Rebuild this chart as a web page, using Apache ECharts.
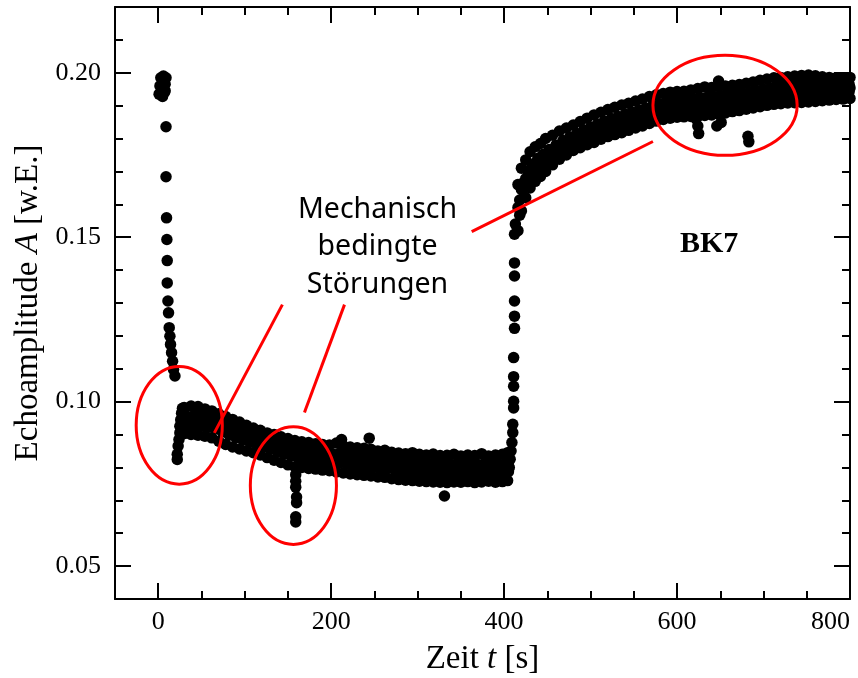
<!DOCTYPE html>
<html><head><meta charset="utf-8">
<script src="https://cdn.jsdelivr.net/npm/echarts@6/dist/echarts.min.js"></script>
<style>html,body{margin:0;padding:0;background:#fff}#c{width:858px;height:678px}</style>
</head><body><div id="c"></div><script>
// ---- data ----
const xMajor = [0, 200, 400, 600, 800];
const yMajor = [0.05, 0.10, 0.15, 0.20];

// initial plateau, drop and ellipse-1 column
const dropT = [1,2,3,4,5,6,7,8,9,5,8, 9,9,9.6,10,10.4,10.4,11.2,11.9,12.7,13.5,14.2,15.4,16.6,17.7,19.3, 22,22,23,24,25,25,26,27,28];
const dropY = [0.1935,0.1960,0.1985,0.1950,0.1975,0.1990,0.1940,0.1965,0.1985,0.1928,0.1945,
  0.1836,0.1684,0.1559,0.1493,0.1429,0.1361,0.1306,0.1270,0.1225,0.1199,0.1174,0.1149,0.1123,0.1098,0.1078,
  0.0824,0.0840,0.0865,0.0885,0.0905,0.0925,0.0945,0.0965,0.0980];

// low band (30 s .. 405 s); two interleaved time grids
const band1T  = [30,38,46,54,62,70,78,86,94,102,110,118,126,134,142,150,158,166,174,182,190,198,206,214,222,230,238,246,254,262,270,278,286,294,302,310,318,326,334,342,350,358,366,374,382,390,398,404];
const band1TS = [34,42,50,58,66,74,82,90,98,106,114,122,130,138,146,154,162,170,178,186,194,202,210,218,226,234,242,250,258,266,274,282,290,298,306,314,322,330,338,346,354,362,370,378,386,394,401,405];
const band1Top = [0.0982,0.0987,0.0985,0.0978,0.0972,0.0963,0.0955,0.0946,0.0938,0.0928,0.0920,0.0913,0.0905,0.0900,0.0893,0.0888,0.0882,0.0878,0.0876,0.0872,0.0870,0.0868,0.0874,0.0866,0.0862,0.0860,0.0858,0.0855,0.0850,0.0852,0.0846,0.0844,0.0842,0.0845,0.0840,0.0838,0.0841,0.0836,0.0837,0.0840,0.0835,0.0838,0.0836,0.0842,0.0835,0.0838,0.0840,0.0845];
const band1Up = [0.0955,0.0960,0.0958,0.0952,0.0945,0.0935,0.0928,0.0918,0.0911,0.0902,0.0895,0.0888,0.0880,0.0874,0.0866,0.0861,0.0856,0.0852,0.0849,0.0846,0.0843,0.0841,0.0844,0.0838,0.0835,0.0833,0.0830,0.0828,0.0824,0.0825,0.0819,0.0817,0.0815,0.0817,0.0813,0.0811,0.0813,0.0809,0.0810,0.0812,0.0808,0.0811,0.0809,0.0814,0.0808,0.0810,0.0812,0.0816];
const band1Mid = [0.0942,0.0943,0.0941,0.0937,0.0931,0.0921,0.0913,0.0904,0.0897,0.0889,0.0882,0.0875,0.0867,0.0861,0.0853,0.0848,0.0842,0.0839,0.0836,0.0833,0.0830,0.0828,0.0829,0.0824,0.0821,0.0819,0.0816,0.0814,0.0811,0.0811,0.0806,0.0803,0.0801,0.0802,0.0799,0.0797,0.0798,0.0795,0.0795,0.0797,0.0795,0.0797,0.0795,0.0798,0.0796,0.0796,0.0798,0.0801];
const band1Low = [0.0929,0.0927,0.0925,0.0922,0.0917,0.0908,0.0898,0.0890,0.0883,0.0876,0.0870,0.0863,0.0855,0.0848,0.0841,0.0835,0.0829,0.0826,0.0823,0.0821,0.0818,0.0816,0.0814,0.0810,0.0807,0.0805,0.0803,0.0801,0.0798,0.0797,0.0793,0.0790,0.0788,0.0787,0.0785,0.0784,0.0783,0.0782,0.0781,0.0783,0.0782,0.0784,0.0781,0.0783,0.0785,0.0782,0.0784,0.0787];
const band1Bot = [0.0903,0.0900,0.0898,0.0895,0.0890,0.0880,0.0870,0.0862,0.0856,0.0850,0.0845,0.0838,0.0830,0.0822,0.0815,0.0808,0.0802,0.0800,0.0797,0.0795,0.0792,0.0790,0.0786,0.0783,0.0780,0.0778,0.0776,0.0774,0.0771,0.0770,0.0766,0.0763,0.0761,0.0760,0.0758,0.0757,0.0756,0.0755,0.0754,0.0756,0.0755,0.0757,0.0754,0.0756,0.0758,0.0755,0.0757,0.0760];

// steep rise
const riseT = [406,407,408,409,410,410,411,411,411,411,411,412,412,412,412,412,412,413];
const riseY = [0.0800,0.0825,0.0850,0.0876,0.0906,0.0931,0.0981,0.1001,0.1047,0.1076,0.1134,0.1223,0.1260,0.1306,0.1382,0.1422,0.1509,0.1540];

// high band (416 s .. 800 s); two interleaved time grids
const band2T  = [416,420,425,430,436,442,448,456,464,472,480,488,496,504,512,520,528,536,544,552,560,568,576,584,592,600,608,616,624,632,640,648,656,664,672,680,688,696,704,712,720,728,736,744,752,760,768,776,784,792,800];
const band2TS = [418,423,428,433,439,445,452,460,468,476,484,492,500,508,516,524,532,540,548,556,564,572,580,588,596,604,612,620,628,636,644,652,660,668,676,684,692,700,708,716,724,732,740,748,756,764,772,780,788,796,799];
const band2Top = [0.1660,0.1710,0.1735,0.1760,0.1775,0.1785,0.1800,0.1810,0.1823,0.1832,0.1841,0.1852,0.1862,0.1872,0.1880,0.1888,0.1895,0.1902,0.1907,0.1914,0.1920,0.1928,0.1933,0.1937,0.1941,0.1943,0.1944,0.1948,0.1952,0.1957,0.1955,0.1958,0.1960,0.1962,0.1964,0.1968,0.1972,0.1977,0.1981,0.1985,0.1986,0.1988,0.1990,0.1992,0.1993,0.1991,0.1988,0.1986,0.1985,0.1985,0.1986];
const band2Up = [0.1613,0.1667,0.1697,0.1723,0.1740,0.1752,0.1767,0.1780,0.1794,0.1805,0.1815,0.1825,0.1835,0.1844,0.1853,0.1861,0.1867,0.1874,0.1880,0.1887,0.1893,0.1901,0.1906,0.1911,0.1915,0.1917,0.1918,0.1921,0.1924,0.1928,0.1927,0.1930,0.1933,0.1935,0.1938,0.1942,0.1946,0.1950,0.1954,0.1958,0.1959,0.1961,0.1963,0.1965,0.1966,0.1965,0.1964,0.1963,0.1963,0.1963,0.1965];
const band2Mid = [0.1590,0.1645,0.1678,0.1705,0.1722,0.1735,0.1750,0.1765,0.1780,0.1791,0.1802,0.1812,0.1821,0.1830,0.1839,0.1847,0.1853,0.1860,0.1866,0.1873,0.1879,0.1887,0.1893,0.1897,0.1901,0.1904,0.1905,0.1907,0.1910,0.1913,0.1913,0.1916,0.1919,0.1921,0.1924,0.1928,0.1932,0.1936,0.1940,0.1944,0.1945,0.1947,0.1949,0.1951,0.1952,0.1952,0.1952,0.1951,0.1952,0.1952,0.1954];
const band2Low = [0.1567,0.1623,0.1658,0.1687,0.1705,0.1718,0.1733,0.1750,0.1766,0.1777,0.1790,0.1799,0.1808,0.1816,0.1825,0.1833,0.1840,0.1846,0.1852,0.1859,0.1865,0.1873,0.1880,0.1884,0.1888,0.1891,0.1892,0.1894,0.1896,0.1899,0.1900,0.1902,0.1905,0.1908,0.1911,0.1915,0.1919,0.1923,0.1927,0.1931,0.1932,0.1934,0.1936,0.1937,0.1938,0.1939,0.1940,0.1940,0.1941,0.1942,0.1943];
const band2Bot = [0.1520,0.1580,0.1620,0.1650,0.1670,0.1685,0.1700,0.1720,0.1737,0.1750,0.1764,0.1772,0.1781,0.1788,0.1798,0.1806,0.1812,0.1818,0.1825,0.1832,0.1838,0.1846,0.1853,0.1858,0.1862,0.1865,0.1866,0.1867,0.1868,0.1870,0.1872,0.1874,0.1878,0.1882,0.1885,0.1889,0.1893,0.1897,0.1901,0.1904,0.1906,0.1908,0.1909,0.1910,0.1911,0.1913,0.1915,0.1917,0.1919,0.1920,0.1922];

// isolated outliers (mechanical disturbances etc.)
const outT = [212,244,331,159,159,159,160,160,159,159,622,624,625,646,651,682,683,648];
const outY = [0.0885,0.0889,0.0713,0.0778,0.0758,0.0740,0.0710,0.0693,0.0650,0.0634,0.1860,0.1838,0.1815,0.1838,0.1849,0.1807,0.1790,0.1975];

// ---- build points ----
const pts = [];
function addPairs(t, y) { for (let i = 0; i < t.length; i++) pts.push([t[i], y[i]]); }
addPairs(dropT, dropY);
addPairs(band1T, band1Top); addPairs(band1TS, band1Up); addPairs(band1T, band1Mid);
addPairs(band1TS, band1Low); addPairs(band1T, band1Bot);
addPairs(riseT, riseY);
addPairs(band2T, band2Top); addPairs(band2TS, band2Up); addPairs(band2T, band2Mid);
addPairs(band2TS, band2Low); addPairs(band2T, band2Bot);
addPairs(outT, outY);

const serif = '"Liberation Serif","Times New Roman",serif';
const black = '#000';
const lineSt = { color: black, width: 2 };

function xAx(pos, major, withLabel) {
  const a = {
    type: 'value', min: -50, max: 800, position: pos,
    axisLine: { show: major, onZero: false, lineStyle: lineSt },
    axisTick: { show: true, inside: true, length: major ? 16 : 8, lineStyle: lineSt },
    axisLabel: { show: withLabel, color: black, fontFamily: serif, fontSize: 26, margin: 10,
      alignMaxLabel: 'right' },
    splitLine: { show: false }
  };
  if (major) { a.axisTick.customValues = xMajor; a.axisLabel.customValues = xMajor; }
  else { a.interval = 50; }
  return a;
}
function yAx(pos, major, withLabel) {
  const a = {
    type: 'value', min: 0.04, max: 0.22, position: pos,
    axisLine: { show: major, onZero: false, lineStyle: lineSt },
    axisTick: { show: true, inside: true, length: major ? 16 : 8, lineStyle: lineSt },
    axisLabel: { show: withLabel, color: black, fontFamily: serif, fontSize: 26, margin: 14,
      formatter: v => v.toFixed(2) },
    splitLine: { show: false }
  };
  if (major) { a.axisTick.customValues = yMajor; a.axisLabel.customValues = yMajor; }
  else { a.interval = 0.01; }
  return a;
}

const xMain = xAx('bottom', true, true);
xMain.name = '{n|Zeit }{i|t}{n| [s]}';
xMain.nameLocation = 'middle';
xMain.nameGap = 44;
xMain.nameTextStyle = { rich: {
  n: { fontFamily: serif, fontSize: 33, color: black },
  i: { fontFamily: serif, fontSize: 33, fontStyle: 'italic', color: black } } };

const yMain = yAx('left', true, true);
yMain.name = '{n|Echoamplitude }{i|A}{n| [w.E.]}';
yMain.nameLocation = 'middle';
yMain.nameGap = 68;
yMain.nameTextStyle = { rich: {
  n: { fontFamily: serif, fontSize: 33, color: black },
  i: { fontFamily: serif, fontSize: 33, fontStyle: 'italic', color: black } } };

const chart = echarts.init(document.getElementById('c'), null, { renderer: 'canvas' });
chart.setOption({
  animation: false,
  backgroundColor: '#fff',
  grid: { left: 115, right: 8, top: 7, bottom: 79, containLabel: false, outerBoundsMode: 'none' },
  xAxis: [xMain, xAx('bottom', false, false), xAx('top', true, false), xAx('top', false, false)],
  yAxis: [yMain, yAx('left', false, false), yAx('right', true, false), yAx('right', false, false)],
  series: [{
    type: 'scatter', xAxisIndex: 0, yAxisIndex: 0,
    symbol: 'circle', symbolSize: 11.5,
    itemStyle: { color: black, opacity: 1 },
    data: pts, silent: true
  }]
});

// ---- annotations (positions in data coordinates) ----
const ann = {
  ellipses: [[24.3, 0.0928, 49.8, 0.0179], [156.3, 0.0745, 49.8, 0.0179], [655.5, 0.1901, 83.4, 0.0152]],
  lines: [[64.9, 0.0905, 143.6, 0.1295], [169.1, 0.0967, 215.4, 0.1295], [362.5, 0.1517, 572.1, 0.1791]],
  label: [253.6, 0.1470],
  bk7: [637, 0.1480]
};
const P = (x, y) => chart.convertToPixel({ gridIndex: 0 }, [x, y]);
const gfx = [];
ann.ellipses.forEach(e => {
  const c = P(e[0], e[1]); const a = P(e[0] + e[2], e[1] + e[3]);
  gfx.push({ type: 'ellipse', z: 100, silent: true,
    shape: { cx: c[0], cy: c[1], rx: Math.abs(a[0] - c[0]), ry: Math.abs(a[1] - c[1]) },
    style: { fill: 'none', stroke: '#ff0000', lineWidth: 3 } });
});
ann.lines.forEach(l => {
  const p1 = P(l[0], l[1]); const p2 = P(l[2], l[3]);
  gfx.push({ type: 'line', z: 100, silent: true,
    shape: { x1: p1[0], y1: p1[1], x2: p2[0], y2: p2[1] },
    style: { stroke: '#ff0000', lineWidth: 3 } });
});
const lp = P(ann.label[0], ann.label[1]);
gfx.push({ type: 'text', z: 100, silent: true, x: lp[0], y: lp[1],
  style: { text: 'Mechanisch\nbedingte\nStörungen', fill: black, font: '28.5px "Noto Sans"',
    lineHeight: 37.5, align: 'center', verticalAlign: 'middle' } });
const bp = P(ann.bk7[0], ann.bk7[1]);
gfx.push({ type: 'text', z: 100, silent: true, x: bp[0], y: bp[1],
  style: { text: 'BK7', fill: black, font: 'bold 30px "Liberation Serif"',
    align: 'center', verticalAlign: 'middle' } });
chart.setOption({ graphic: gfx });
</script></body></html>
